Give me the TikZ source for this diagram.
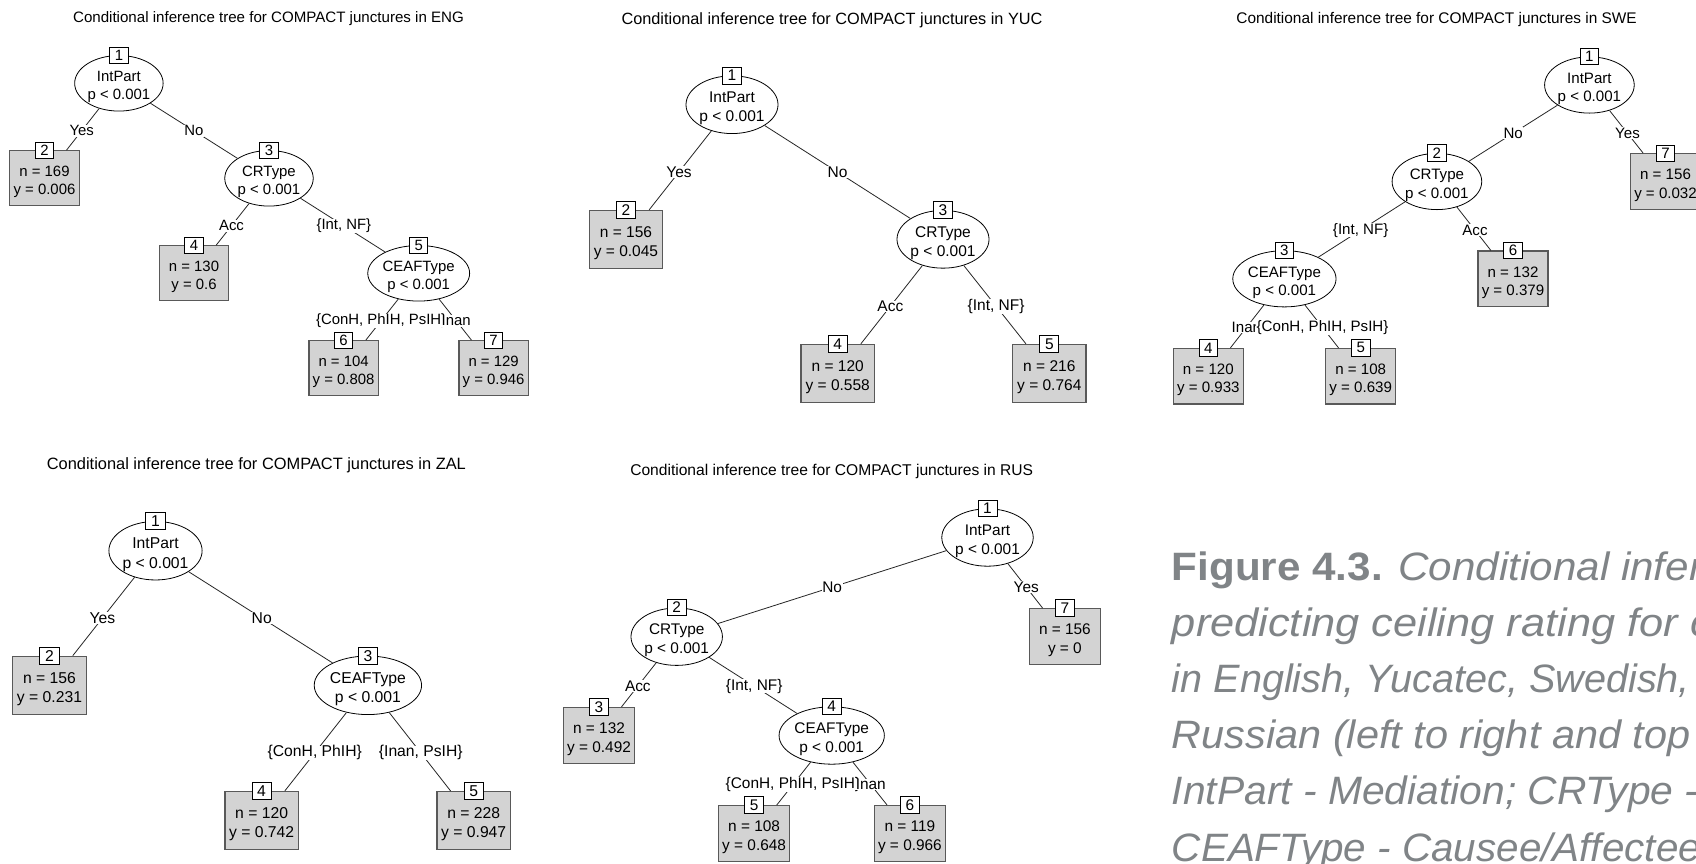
\documentclass[tikz,border=0pt]{standalone}
\usepackage{fontspec}
\setmainfont{Liberation Sans}
\usetikzlibrary{shapes.geometric,calc}
\definecolor{leafgray}{RGB}{211,211,211}
\definecolor{capgray}{RGB}{128,132,135}
\newcommand\topfix{\rule{0pt}{1.2em}}
\tikzset{
  inode/.style={ellipse, draw=black, line width=0.8pt, fill=white, inner sep=0pt, align=center},
  leaf/.style={rectangle, draw=black!65, line width=1.2pt, fill=leafgray, inner sep=0pt, align=center},
  numbox/.style={rectangle, draw=black, line width=0.8pt, fill=white, inner sep=0pt},
  edge/.style={draw=black!85, line width=0.8pt},
  elabel/.style={fill=white, inner xsep=0.6pt, inner ysep=0pt, minimum height=1.15em},
  ttl/.style={anchor=base, inner sep=0pt},
  capline/.style={anchor=base west, inner sep=0pt, text=capgray, font=\fontsize{39.6}{46}\selectfont},
}
\begin{document}
\begin{tikzpicture}[x=1pt,y=-1pt]
\useasboundingbox (0,0) rectangle (1696,864);
\clip (0,0) rectangle (1696,864);
\fill[white] (0,0) rectangle (1696,864);

% ---------------- ENG ----------------
\begin{scope}[font=\fontsize{14.9}{18.3}\selectfont,
  inode/.append style={minimum width=83pt, minimum height=54pt},
  leaf/.append style={minimum width=69.3pt, minimum height=55pt},
  numbox/.append style={minimum width=18.3pt, minimum height=16pt}]
\node[ttl, font=\fontsize{15.1}{18}\selectfont] (engT) at (268.5,22.7) {Conditional inference tree for COMPACT junctures in ENG};
\node[inode] (engA) at (118.9,83.3) {\topfix IntPart\\p < 0.001};
\node[leaf] (engB) at (44.5,178.3) {\topfix n = 169\\y = 0.006};
\node[inode] (engC) at (269,178.3) {\topfix CRType\\p < 0.001};
\node[leaf] (engD) at (194,273.3) {\topfix n = 130\\y = 0.6};
\node[inode] (engE) at (418.7,273.3) {\topfix CEAFType\\p < 0.001};
\node[leaf] (engF) at (343.6,368.2) {\topfix n = 104\\y = 0.808};
\node[leaf] (engG) at (493.6,368.2) {\topfix n = 129\\y = 0.946};
\draw[edge] (engA) -- (engB);
\draw[edge] (engA) -- (engC);
\draw[edge] (engC) -- (engD);
\draw[edge] (engC) -- (engE);
\draw[edge] (engE) -- (engF);
\draw[edge] (engE) -- (engG);
\node[numbox] (engA1) at (engA.north) {1};
\node[numbox] (engB1) at (engB.north) {2};
\node[numbox] (engC1) at (engC.north) {3};
\node[numbox] (engD1) at (engD.north) {4};
\node[numbox] (engE1) at (engE.north) {5};
\node[numbox] (engF1) at (engF.north) {6};
\node[numbox] (engG1) at (engG.north) {7};
\node[elabel] (engAB) at ($(engA)!0.5!(engB)$) {Yes};
\node[elabel] (engAC) at ($(engA)!0.5!(engC)$) {No};
\node[elabel] (engCD) at ($(engC)!0.5!(engD)$) {Acc};
\node[elabel] (engCE) at ($(engC)!0.5!(engE)$) {\{Int, NF\}};
\node[elabel] (engEF) at ($(engE)!0.5!(engF)$) {\{ConH, PhIH, PsIH\}};
\node[elabel] (engEG) at ($(engE)!0.5!(engG)$) {Inan};
\end{scope}

% ---------------- YUC ----------------
\begin{scope}[font=\fontsize{15.5}{19}\selectfont,
  inode/.append style={minimum width=87.3pt, minimum height=57.3pt},
  leaf/.append style={minimum width=73.3pt, minimum height=57.7pt},
  numbox/.append style={minimum width=19pt, minimum height=17pt}]
\node[ttl, font=\fontsize{16.3}{19}\selectfont] (yucT) at (832,24.8) {Conditional inference tree for COMPACT junctures in YUC};
\node[inode] (yucA) at (732,104.7) {\topfix IntPart\\p < 0.001};
\node[leaf] (yucB) at (626,239.3) {\topfix n = 156\\y = 0.045};
\node[inode] (yucC) at (943,239.3) {\topfix CRType\\p < 0.001};
\node[leaf] (yucD) at (837.7,373.3) {\topfix n = 120\\y = 0.558};
\node[leaf] (yucE) at (1049.3,373.3) {\topfix n = 216\\y = 0.764};
\draw[edge] (yucA) -- (yucB);
\draw[edge] (yucA) -- (yucC);
\draw[edge] (yucC) -- (yucD);
\draw[edge] (yucC) -- (yucE);
\node[numbox] (yucA1) at (yucA.north) {1};
\node[numbox] (yucB1) at (yucB.north) {2};
\node[numbox] (yucC1) at (yucC.north) {3};
\node[numbox] (yucD1) at (yucD.north) {4};
\node[numbox] (yucE1) at (yucE.north) {5};
\node[elabel] (yucAB) at ($(yucA)!0.5!(yucB)$) {Yes};
\node[elabel] (yucAC) at ($(yucA)!0.5!(yucC)$) {No};
\node[elabel] (yucCD) at ($(yucC)!0.5!(yucD)$) {Acc};
\node[elabel] (yucCE) at ($(yucC)!0.5!(yucE)$) {\{Int, NF\}};
\end{scope}

% ---------------- SWE ----------------
\begin{scope}[font=\fontsize{15.1}{18.5}\selectfont,
  inode/.append style={minimum width=83.6pt, minimum height=55pt},
  leaf/.append style={minimum width=70pt, minimum height=55.5pt},
  numbox/.append style={minimum width=18.6pt, minimum height=16.2pt}]
\node[ttl, font=\fontsize{15.4}{18}\selectfont] (sweT) at (1436.6,23.8) {Conditional inference tree for COMPACT junctures in SWE};
\node[inode] (sweA) at (1589.4,85) {\topfix IntPart\\p < 0.001};
\node[inode] (sweB) at (1436.9,181.5) {\topfix CRType\\p < 0.001};
\node[leaf] (sweG) at (1665.5,181.5) {\topfix n = 156\\y = 0.032};
\node[inode] (sweC) at (1284.4,278.8) {\topfix CEAFType\\p < 0.001};
\node[leaf] (sweF) at (1513,278.8) {\topfix n = 132\\y = 0.379};
\node[leaf] (sweD) at (1208.3,376.2) {\topfix n = 120\\y = 0.933};
\node[leaf] (sweE) at (1360.7,376.2) {\topfix n = 108\\y = 0.639};
\draw[edge] (sweA) -- (sweB);
\draw[edge] (sweA) -- (sweG);
\draw[edge] (sweB) -- (sweC);
\draw[edge] (sweB) -- (sweF);
\draw[edge] (sweC) -- (sweD);
\draw[edge] (sweC) -- (sweE);
\node[numbox] (sweA1) at (sweA.north) {1};
\node[numbox] (sweB1) at (sweB.north) {2};
\node[numbox] (sweC1) at (sweC.north) {3};
\node[numbox] (sweD1) at (sweD.north) {4};
\node[numbox] (sweE1) at (sweE.north) {5};
\node[numbox] (sweF1) at (sweF.north) {6};
\node[numbox] (sweG1) at (sweG.north) {7};
\node[elabel] (sweAB) at ($(sweA)!0.5!(sweB)$) {No};
\node[elabel] (sweAG) at ($(sweA)!0.5!(sweG)$) {Yes};
\node[elabel] (sweBC) at ($(sweB)!0.5!(sweC)$) {\{Int, NF\}};
\node[elabel] (sweBF) at ($(sweB)!0.5!(sweF)$) {Acc};
\node[elabel] (sweCD) at ($(sweC)!0.5!(sweD)$) {Inan};
\node[elabel] (sweCE) at ($(sweC)!0.5!(sweE)$) {\{ConH, PhIH, PsIH\}};
\end{scope}

% ---------------- ZAL ----------------
\begin{scope}[font=\fontsize{15.7}{19.3}\selectfont,
  inode/.append style={minimum width=87.9pt, minimum height=57.3pt},
  leaf/.append style={minimum width=73.4pt, minimum height=58pt},
  numbox/.append style={minimum width=19.3pt, minimum height=16.9pt}]
\node[ttl, font=\fontsize{16.4}{19}\selectfont] (zalT) at (256.4,469.9) {Conditional inference tree for COMPACT junctures in ZAL};
\node[inode] (zalA) at (155.5,550.7) {\topfix IntPart\\p < 0.001};
\node[leaf] (zalB) at (49.5,685.3) {\topfix n = 156\\y = 0.231};
\node[inode] (zalC) at (367.9,685.3) {\topfix CEAFType\\p < 0.001};
\node[leaf] (zalD) at (261.6,820.5) {\topfix n = 120\\y = 0.742};
\node[leaf] (zalE) at (473.7,820.5) {\topfix n = 228\\y = 0.947};
\draw[edge] (zalA) -- (zalB);
\draw[edge] (zalA) -- (zalC);
\draw[edge] (zalC) -- (zalD);
\draw[edge] (zalC) -- (zalE);
\node[numbox] (zalA1) at (zalA.north) {1};
\node[numbox] (zalB1) at (zalB.north) {2};
\node[numbox] (zalC1) at (zalC.north) {3};
\node[numbox] (zalD1) at (zalD.north) {4};
\node[numbox] (zalE1) at (zalE.north) {5};
\node[elabel] (zalAB) at ($(zalA)!0.5!(zalB)$) {Yes};
\node[elabel] (zalAC) at ($(zalA)!0.5!(zalC)$) {No};
\node[elabel] (zalCD) at ($(zalC)!0.5!(zalD)$) {\{ConH, PhIH\}};
\node[elabel] (zalCE) at ($(zalC)!0.5!(zalE)$) {\{Inan, PsIH\}};
\end{scope}

% ---------------- RUS ----------------
\begin{scope}[font=\fontsize{15.4}{18.9}\selectfont,
  inode/.append style={minimum width=84.7pt, minimum height=56pt},
  leaf/.append style={minimum width=71.2pt, minimum height=56pt},
  numbox/.append style={minimum width=18.9pt, minimum height=16.5pt}]
\node[ttl, font=\fontsize{15.6}{18}\selectfont] (rusT) at (831.7,475.6) {Conditional inference tree for COMPACT junctures in RUS};
\node[inode] (rusA) at (987.5,537.5) {\topfix IntPart\\p < 0.001};
\node[inode] (rusB) at (676.7,636.7) {\topfix CRType\\p < 0.001};
\node[leaf] (rusG) at (1064.9,636.7) {\topfix n = 156\\y = 0};
\node[leaf] (rusC) at (599,735.5) {\topfix n = 132\\y = 0.492};
\node[inode] (rusD) at (831.7,735.5) {\topfix CEAFType\\p < 0.001};
\node[leaf] (rusE) at (754.1,833.7) {\topfix n = 108\\y = 0.648};
\node[leaf] (rusF) at (909.9,833.7) {\topfix n = 119\\y = 0.966};
\draw[edge] (rusA) -- (rusB);
\draw[edge] (rusA) -- (rusG);
\draw[edge] (rusB) -- (rusC);
\draw[edge] (rusB) -- (rusD);
\draw[edge] (rusD) -- (rusE);
\draw[edge] (rusD) -- (rusF);
\node[numbox] (rusA1) at (rusA.north) {1};
\node[numbox] (rusB1) at (rusB.north) {2};
\node[numbox] (rusC1) at (rusC.north) {3};
\node[numbox] (rusD1) at (rusD.north) {4};
\node[numbox] (rusE1) at (rusE.north) {5};
\node[numbox] (rusF1) at (rusF.north) {6};
\node[numbox] (rusG1) at (rusG.north) {7};
\node[elabel] (rusAB) at ($(rusA)!0.5!(rusB)$) {No};
\node[elabel] (rusAG) at ($(rusA)!0.5!(rusG)$) {Yes};
\node[elabel] (rusBC) at ($(rusB)!0.5!(rusC)$) {Acc};
\node[elabel] (rusBD) at ($(rusB)!0.5!(rusD)$) {\{Int, NF\}};
\node[elabel] (rusDE) at ($(rusD)!0.5!(rusE)$) {\{ConH, PhIH, PsIH\}};
\node[elabel] (rusDF) at ($(rusD)!0.5!(rusF)$) {Inan};
\end{scope}

% ---------------- caption ----------------
\node[capline] (capA) at (1171.7,580) {\scalebox{1.065}[1]{\textbf{Figure 4.3.} \textit{Conditional inference}}};
\node[capline] (capB) at (1171.7,636.2) {\scalebox{1.095}[1]{\textit{predicting ceiling rating for compact}}};
\node[capline] (capC) at (1171.7,692.4) {\textit{in English, Yucatec, Swedish, Zapotec}};
\node[capline] (capD) at (1171.7,748.6) {\scalebox{1.047}[1]{\textit{Russian (left to right and top to}}};
\node[capline] (capE) at (1171.7,804.8) {\scalebox{1.03}[1]{\textit{IntPart - Mediation; CRType - Causer}}};
\node[capline] (capF) at (1171.7,861) {\scalebox{1.02}[1]{\textit{CEAFType - Causee/Affectee type}}};
\end{tikzpicture}
\end{document}
